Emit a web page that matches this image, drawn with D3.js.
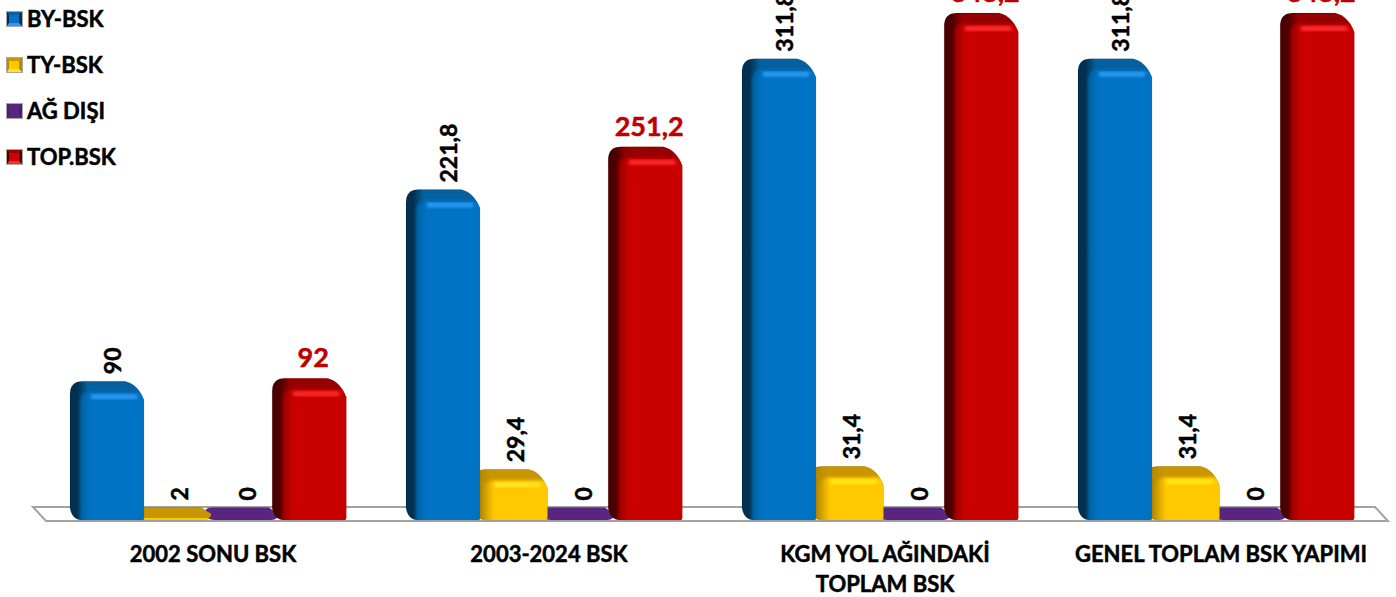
<!DOCTYPE html>
<html>
<head>
<meta charset="utf-8">
<title>BSK</title>
<script src="https://cdn.jsdelivr.net/npm/d3@7"></script>
<style>
    html, body { margin: 0; padding: 0; background: #fff; overflow: hidden; }
    text { font-family: Lato, "Noto Sans", sans-serif; font-weight: 700; stroke-width: 0.5px; }
</style>
</head>
<body>
<svg id="chart" width="1396" height="597"></svg>
<script>
// values
const categories = ["2002 SONU BSK", "2003-2024 BSK", "KGM YOL AĞINDAKİ|TOPLAM BSK", "GENEL TOPLAM BSK YAPIMI"];
const seriesNames = ["BY-BSK", "TY-BSK", "AĞ DIŞI", "TOP.BSK"];
const byBsk = [90, 221.8, 311.8, 311.8];
const tyBsk = [2, 29.4, 31.4, 31.4];
const agDisi = [0, 0, 0, 0];
const topBsk = [92, 251.2, 343.2, 343.2];

const seriesValues = [byBsk, tyBsk, agDisi, topBsk];

// left band, top band, front face, highlight
const palette = {
    "BY-BSK": ["#02304f", "#05609f", "#0672c4", "#2a9af2"],
    "TY-BSK": ["#b88a00", "#c89600", "#ffc800", "#ffe81a"],
    "AĞ DIŞI": ["#4a1d6e", "#5a2580", "#5a2580", "#5a2580"],
    "TOP.BSK": ["#4a0000", "#960000", "#c80606", "#ff2a2a"]
};

const svg = d3.select("#chart");
const defs = svg.append("defs");

const baseY = 520;
const barWidth = 74;
const flatTop = 507.5;

let xGroup = d3.scaleBand().domain(categories).range([40, 1384]);
let xSeries = d3.scaleBand().domain(seriesNames).range([30, 30 + 4 * 67.4]);
let y = d3.scaleLinear().domain([0, 343.2]).range([512, 13]);
let legendY = d3.scalePoint().domain(seriesNames).range([19, 157]);

let fmt = d3.formatLocale({ decimal: ",", thousands: ".", grouping: [3], currency: ["", ""] }).format(".1~f");

// gradients for every series
for (let name of seriesNames) {
    let c = palette[name];
    let side = defs.append("linearGradient").attr("id", "side" + seriesNames.indexOf(name));
    side.append("stop").attr("offset", "0%").attr("stop-color", c[0]);
    side.append("stop").attr("offset", "10%").attr("stop-color", c[0]);
    side.append("stop").attr("offset", "24%").attr("stop-color", c[1]);
    let front = defs.append("linearGradient").attr("id", "front" + seriesNames.indexOf(name));
    front.append("stop").attr("offset", "0%").attr("stop-color", c[1]);
    front.append("stop").attr("offset", "14%").attr("stop-color", c[2]);
}
let blur = defs.append("filter").attr("id", "soft");
blur.append("feGaussianBlur").attr("stdDeviation", 1.8);
let edge = defs.append("filter").attr("id", "edge")
    .attr("x", "-10%").attr("y", "-10%").attr("width", "120%").attr("height", "120%");
edge.append("feGaussianBlur").attr("stdDeviation", 1.4);

/**
 * Outline of one column, rounded at the top and chamfered at the bottom left
 */
function barPath(x, top, w, bottom) {
    let h = bottom - top;
    let flat = h < 20;
    let tl = flat ? 7 : 13;
    let tr = flat ? 10 : 19;
    let bl = flat ? 10 : 12;
    let br = flat ? 8 : 2;
    let p = d3.path();
    p.moveTo(x, top + (flat ? h / 2 : tl));
    p.quadraticCurveTo(x, top, x + tl, top);
    p.lineTo(x + w - tr, top);
    p.quadraticCurveTo(x + w - 6, top + 3, x + w, top + (flat ? h / 2 : tr));
    p.lineTo(x + w, bottom - br);
    p.quadraticCurveTo(x + w, bottom, x + w - br, bottom);
    p.lineTo(x + bl, bottom);
    p.quadraticCurveTo(x + 2, bottom, x, flat ? top + h / 2 : bottom - bl);
    p.closePath();
    return p.toString();
}

// floor of the chart
let floor = d3.line();
svg.append("path")
    .attr("d", floor([[33, 507], [46, 521], [1388, 521], [1375, 507]]) + "Z")
    .attr("fill", "#fff")
    .attr("stroke", "#a3a3a3")
    .attr("stroke-width", 2);

// columns, back ones first so that they overlap like in the picture
let drawOrder = ["AĞ DIŞI", "TY-BSK", "BY-BSK", "TOP.BSK"];
for (let name of drawOrder) {
    let s = seriesNames.indexOf(name);
    let c = palette[name];
    let bars = svg.append("g").selectAll("g").data(categories).enter().append("g");

    bars.each(function(cat, i) {
        let g = d3.select(this);
        let x = xGroup(cat) + xSeries(name);
        let top = Math.min(y(seriesValues[s][i]), flatTop);
        let h = baseY - top;
        let clipId = "clip" + s + "-" + i;

        defs.append("clipPath").attr("id", clipId)
            .append("path").attr("d", barPath(x, top, barWidth, baseY));

        g.append("path")
            .attr("d", barPath(x, top, barWidth, baseY))
            .attr("fill", h < 20 ? c[1] : "url(#side" + s + ")")
            .attr("stroke", "#000")
            .attr("stroke-opacity", 0.12)
            .attr("stroke-width", 0.8);

        let inner = g.append("g").attr("clip-path", "url(#" + clipId + ")");

        if (h >= 20) {
            let fx = x + 10;
            let fy = top + 11;
            let fw = barWidth;
            inner.append("path")
                .attr("d", `M${fx},${baseY + 6} L${fx},${fy + 11} Q${fx},${fy} ${fx + 11},${fy} L${fx + fw - 11},${fy} Q${fx + fw},${fy} ${fx + fw},${fy + 11} L${fx + fw},${baseY + 6} Z`)
                .attr("fill", "url(#front" + s + ")")
                .attr("filter", "url(#edge)");
            inner.append("rect")
                .attr("x", x + 21)
                .attr("y", top + 13)
                .attr("width", barWidth - 28)
                .attr("height", 5)
                .attr("fill", c[3])
                .attr("filter", "url(#soft)");
        } else if (name == "TY-BSK") {
            // thin lit edge on the flat yellow column
            inner.append("rect")
                .attr("x", x + 6)
                .attr("y", baseY - 2)
                .attr("width", barWidth - 10)
                .attr("height", 2)
                .attr("fill", c[2]);
        }

        // value labels, the total is horizontal and red
        if (name == "TOP.BSK") {
            g.append("text")
                .attr("x", x + barWidth / 2 + 4)
                .attr("y", top - 11)
                .attr("text-anchor", "middle")
                .attr("font-size", 27)
                .attr("fill", "#c00000")
                .attr("stroke", "#c00000")
                .text(fmt(seriesValues[s][i]));
        } else {
            g.append("text")
                .attr("transform", `translate(${x + barWidth / 2 + 14},${top - 7}) rotate(-90)`)
                .attr("font-size", 23)
                .attr("fill", "#000")
                .attr("stroke", "#000")
                .text(fmt(seriesValues[s][i]));
        }
    });
}

// category axis, the long label goes on two lines
let xAxis = d3.axisBottom(xGroup).tickSize(0).tickPadding(0).tickFormat(d => "");
let axisG = svg.append("g").attr("transform", "translate(5,562)").call(xAxis);
axisG.select(".domain").remove();
axisG.selectAll(".tick text")
    .attr("y", 0)
    .attr("dy", 0)
    .attr("font-size", 22)
    .attr("fill", "#000")
    .attr("stroke", "#000")
    .style("font-family", "Lato")
    .each(function(d) {
        let t = d3.select(this);
        d.split("|").forEach((line, i) => {
            t.append("tspan").attr("x", 0).attr("dy", i == 0 ? 0 : 30).text(line);
        });
    });

// legend with bevelled squares
let legend = svg.append("g").selectAll("g").data(seriesNames).enter().append("g")
    .attr("transform", d => `translate(6,${legendY(d)})`);

legend.each(function(name) {
    let g = d3.select(this);
    let c = palette[name];
    g.append("rect").attr("x", 0).attr("y", -8).attr("width", 17).attr("height", 16).attr("fill", "#a8a8a8");
    g.append("rect").attr("x", 1).attr("y", -7).attr("width", 15).attr("height", 14).attr("fill", c[0]);
    g.append("path").attr("d", "M1,-7L16,-7L13,-4L3,-4Z").attr("fill", c[1]);
    g.append("path").attr("d", "M1,7L16,7L13,4L3,4Z").attr("fill", c[3]);
    g.append("rect").attr("x", 3).attr("y", -4).attr("width", 10).attr("height", 8).attr("fill", c[2]);
    g.append("text")
        .attr("x", 21)
        .attr("y", 8)
        .attr("font-size", 22)
        .attr("fill", "#000")
        .attr("stroke", "#000")
        .text(name);
});
</script>
</body>
</html>
